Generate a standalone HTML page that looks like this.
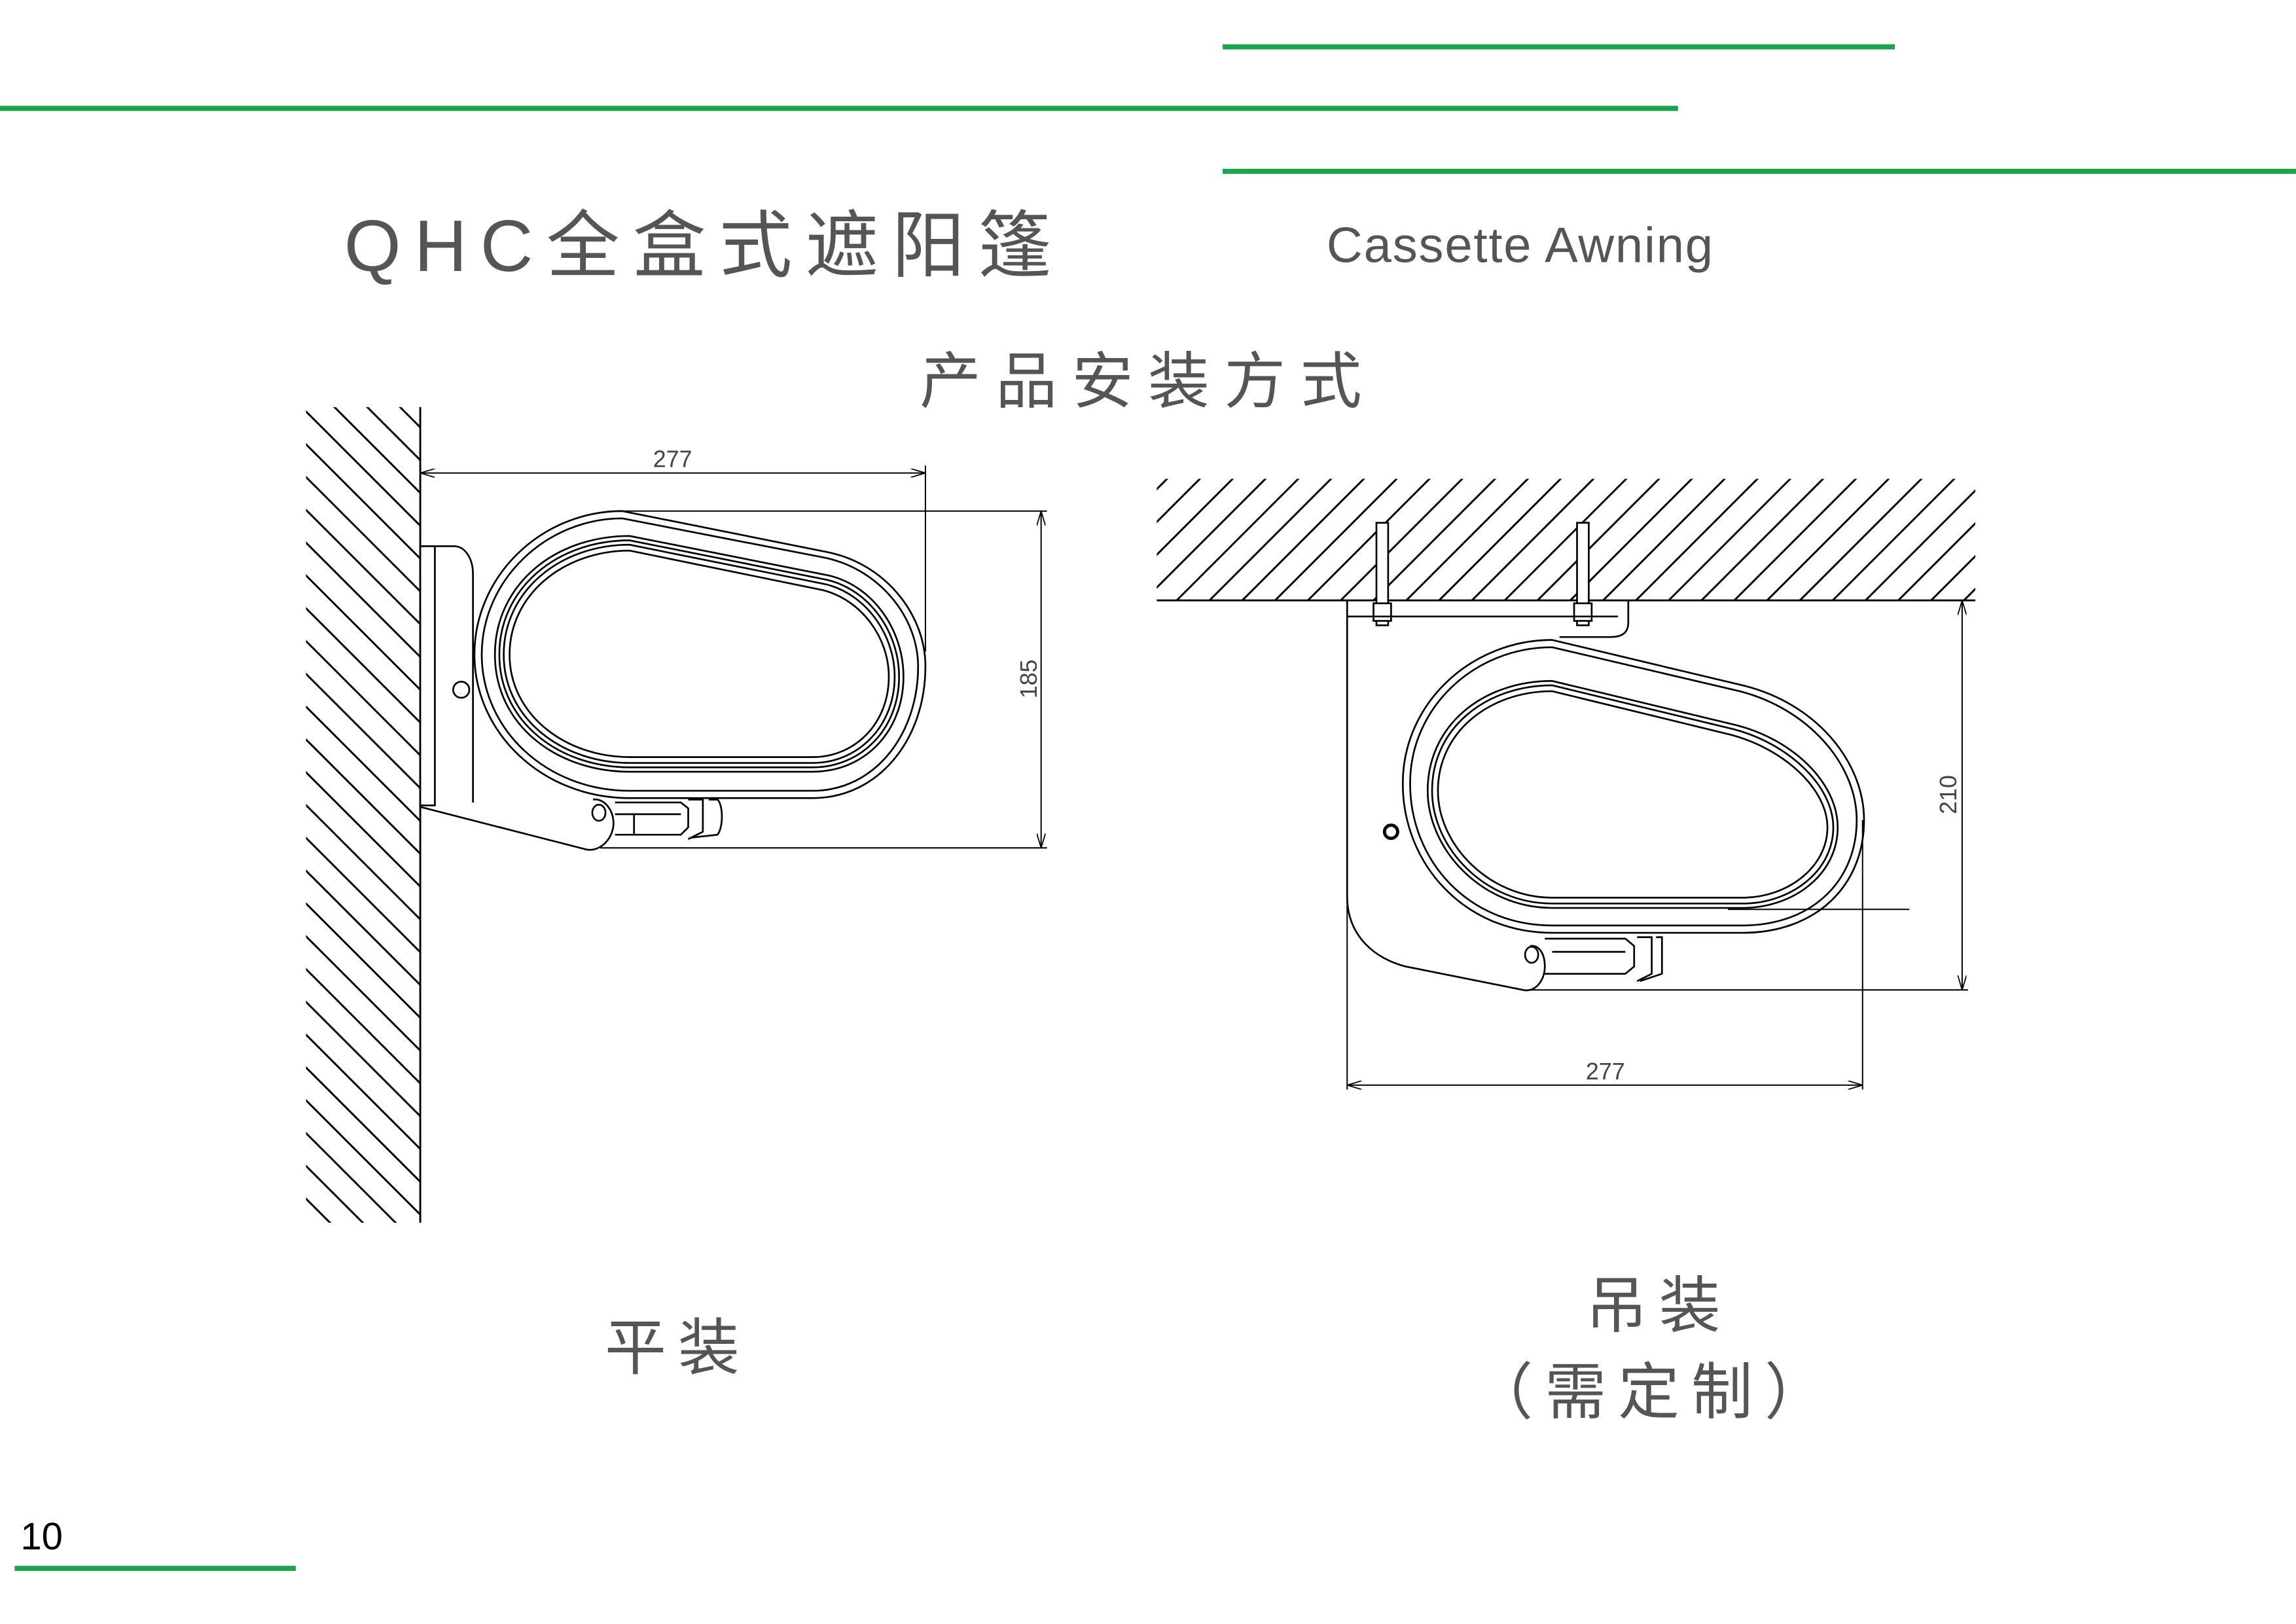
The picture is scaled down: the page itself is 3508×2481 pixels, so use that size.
<!DOCTYPE html>
<html><head><meta charset="utf-8"><style>
html,body{margin:0;padding:0;background:#fff}
svg{display:block}
</style></head><body>
<svg width="3508" height="2481" viewBox="0 0 1568 1109" preserveAspectRatio="none" xmlns="http://www.w3.org/2000/svg">
<defs>
<pattern id="pw" patternUnits="userSpaceOnUse" width="22.4" height="22.4" patternTransform="translate(209,281)">
<path d="M-5,-5 L27.4,27.4 M-5,17.4 L5,27.4 M17.4,-5 L27.4,5" stroke="#000" stroke-width="1.3"/>
</pattern>
<pattern id="pc" patternUnits="userSpaceOnUse" width="22.4" height="22.4" patternTransform="translate(797,327)">
<path d="M-5,27.4 L27.4,-5 M-5,5 L5,-5 M17.4,27.4 L27.4,17.4" stroke="#000" stroke-width="1.3"/>
</pattern>
<marker id="ar" viewBox="0 0 10 6" refX="10" refY="3" markerWidth="10" markerHeight="6" orient="auto-start-reverse" markerUnits="userSpaceOnUse"><path d="M0,0 L10,3 L0,6" fill="none" stroke="#000" stroke-width="0.8"/></marker>
</defs>
<rect width="1568" height="1109" fill="#fff"/>
<g stroke="#1aa34a" stroke-width="3.5">
<line x1="835" y1="32" x2="1294" y2="32"/>
<line x1="0" y1="74" x2="1146" y2="74"/>
<line x1="835" y1="117" x2="1568" y2="117"/>
<line x1="10" y1="1071" x2="202" y2="1071"/>
</g>
<g font-family="'Liberation Sans','Noto Sans CJK SC',sans-serif" fill="#555">
<text x="235" y="185" font-size="50" letter-spacing="9">QHC全盒式遮阳篷</text>
<text x="906" y="179" font-size="34" letter-spacing="0.8">Cassette Awning</text>
<text x="628" y="275" font-size="42" letter-spacing="10">产品安装方式</text>
<text x="413" y="935" font-size="42" letter-spacing="8">平装</text>
<text x="1083" y="906" font-size="42" letter-spacing="8">吊装</text>
<text x="1005" y="965" font-size="42" letter-spacing="8">（需定制）</text>
<text x="14" y="1058" font-size="26" fill="#000">10</text>
</g>
<rect x="209" y="278" width="78" height="557" fill="url(#pw)"/>
<line x1="287" y1="278" x2="287" y2="835" stroke="#000" stroke-width="1.3"/>
<g fill="none" stroke="#000" stroke-width="1.2">
<rect x="287" y="373" width="10" height="177" fill="#fff"/>
<path d="M297,373 L310,373 C318,373 323,382 323,392 L323,548"/>
<circle cx="315" cy="471" r="5.5"/>
<path d="M287,551 L400,580 C408,582 418,575 419,563 C419,552 412,545 405,546"/>
<ellipse cx="409" cy="555" rx="4.5" ry="5.5"/>
<path d="M420,548 L465,548 L470,552 L470,565 L465,570 L420,570 M420,556 L465,556 M433,556 L433,570 M470,546 L480,546 L480,568 L470,573 M484,546 L490,546 C494,550 494,565 490,570 L472,572"/>
<path d="M425,349 L565,377 C605,385 632,420 632,455 C632,505 600,545 555,545 L430,545 C370,545 324,500 324,447 C324,393 370,349 425,349 Z"/>
<path d="M425,354 L564,381 C601,389 627,422 627,455 C627,502 597,540 555,540 L430,540 C373,540 329,498 329,447 C329,396 373,354 425,354 Z"/>
<path d="M430,366 L566,393 C596,400 617,430 617,462 C617,500 590,527 555,527 L430,527 C380,527 338,495 338,447 C338,400 378,366 430,366 Z"/>
<path d="M430,369 L565,396 C594,403 614,432 614,462 C614,498 588,524 555,524 L430,524 C382,524 341,493 341,447 C341,402 380,369 430,369 Z"/>
<path d="M430,372 L564,399 C592,406 611,434 611,462 C611,496 586,521 555,521 L430,521 C384,521 344,491 344,447 C344,404 382,372 430,372 Z"/>
<path d="M430,376 L562,403 C589,410 607,436 607,462 C607,494 584,517 555,517 L430,517 C386,517 348,488 348,447 C348,406 385,376 430,376 Z"/>
</g>
<g stroke="#000" stroke-width="0.9" fill="none">
<line x1="287" y1="323" x2="632" y2="323" marker-start="url(#ar)" marker-end="url(#ar)"/>
<line x1="632" y1="318" x2="632" y2="445"/>
<line x1="425" y1="349" x2="715" y2="349"/>
<line x1="410" y1="579" x2="715" y2="579"/>
<line x1="711" y1="349" x2="711" y2="579" marker-start="url(#ar)" marker-end="url(#ar)"/>
</g>
<g font-family="'Liberation Sans',sans-serif" fill="#444" font-size="16">
<text x="446" y="319">277</text>
<text transform="translate(708,477) rotate(-90)">185</text>
<text x="1083" y="737">277</text>
<text transform="translate(1336,556) rotate(-90)">210</text>
</g>
<rect x="790" y="327" width="559" height="83" fill="url(#pc)"/>
<line x1="790" y1="410" x2="1349" y2="410" stroke="#000" stroke-width="1.3"/>
<g fill="none" stroke="#000" stroke-width="1.2">
<rect x="940" y="357" width="8" height="70" fill="#fff"/>
<rect x="1077" y="357" width="8" height="70" fill="#fff"/>
<rect x="938" y="412" width="12" height="12" fill="#fff"/>
<rect x="1075" y="412" width="12" height="12" fill="#fff"/>
<path d="M920,410 L920,612 C920,640 940,655 960,660 L1040,676 C1048,678 1055,670 1055,660 C1055,650 1050,645 1045,646"/>
<path d="M920,421 L1105,421 M1112,410 L1112,425 C1112,432 1108,435 1100,435 L1065,435"/>
<circle cx="950" cy="568" r="4.5" stroke-width="2.2"/>
<ellipse cx="1046" cy="652" rx="4.5" ry="5.5"/>
<path d="M1055,641 L1110,641 L1116,646 L1116,660 L1110,665 L1055,665 M1060,650 L1110,650 M1118,640 L1128,640 L1128,665 L1118,670 M1131,640 L1135,640 L1135,665 L1120,670"/>
<path d="M1060,437 L1190,468 C1240,480 1273,520 1273,560 C1273,605 1240,637 1190,637 L1060,637 C1000,637 958,590 958,535 C958,480 1005,437 1060,437 Z"/>
<path d="M1060,442 L1188,472 C1235,484 1268,522 1268,560 C1268,602 1237,632 1190,632 L1060,632 C1003,632 963,588 963,535 C963,483 1007,442 1060,442 Z"/>
<path d="M1060,465 L1185,495 C1225,505 1255,535 1255,565 C1255,597 1225,620 1190,620 L1060,620 C1012,620 975,580 975,540 C975,495 1013,465 1060,465 Z"/>
<path d="M1060,468 L1184,498 C1222,508 1252,537 1252,565 C1252,595 1223,617 1190,617 L1060,617 C1014,617 978,579 978,540 C978,497 1015,468 1060,468 Z"/>
<path d="M1060,472 L1183,502 C1219,512 1248,539 1248,565 C1248,592 1221,613 1190,613 L1060,613 C1017,613 982,577 982,540 C982,500 1017,472 1060,472 Z"/>
</g>
<g stroke="#000" stroke-width="0.9" fill="none">
<line x1="1180" y1="621" x2="1304" y2="621"/>
<line x1="1112" y1="410" x2="1344" y2="410"/>
<line x1="1045" y1="676" x2="1344" y2="676"/>
<line x1="1340" y1="410" x2="1340" y2="676" marker-start="url(#ar)" marker-end="url(#ar)"/>
<line x1="1272" y1="560" x2="1272" y2="744"/>
<line x1="920" y1="612" x2="920" y2="744"/>
<line x1="920" y1="741" x2="1272" y2="741" marker-start="url(#ar)" marker-end="url(#ar)"/>
</g>
</svg>
</body></html>
